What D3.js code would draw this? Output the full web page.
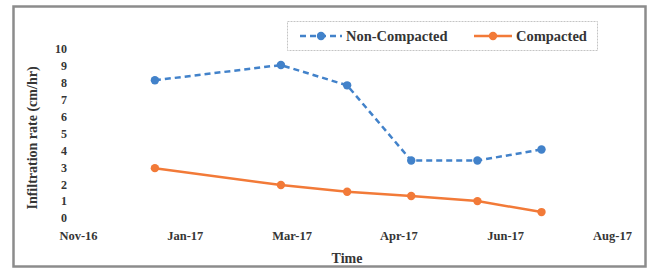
<!DOCTYPE html>
<html>
<head>
<meta charset="utf-8">
<script src="https://cdn.jsdelivr.net/npm/d3@7"></script>
<style>
  body { margin: 0; background: #fff; }
  svg text { font-family: "Liberation Serif", "Times New Roman", serif; font-weight: bold; fill: #353535; }
</style>
</head>
<body>
<div id="chart"></div>
<script>
// Sampling dates and measured infiltration rates
const dates = ["2017-01-05", "2017-03-05", "2017-04-05", "2017-05-05", "2017-06-05", "2017-07-05"];
const nonCompacted = [8.15, 9.05, 7.85, 3.4, 3.4, 4.05];
const compacted = [2.95, 1.95, 1.55, 1.3, 1.0, 0.35];
const seriesNames = ["Non-Compacted", "Compacted"];
const yTicks = [0, 1, 2, 3, 4, 5, 6, 7, 8, 9, 10];
// Excel date axis: start Nov 30 2016, major unit 50 days
const xStart = "2016-11-30";
const xTickCount = 6;
const xTickStepDays = 50;

const width = 651;
const height = 272;
const parse = d3.timeParse("%Y-%m-%d");

const t0 = parse(xStart);
const xTicks = d3.range(xTickCount).map((i) => d3.timeDay.offset(t0, i * xTickStepDays));

const x = d3.scaleTime().domain([xTicks[0], xTicks[xTicks.length - 1]]).range([78, 612]);
const y = d3.scaleLinear().domain([0, 10]).range([218, 49]);

const svg = d3.select("#chart").append("svg").attr("width", width).attr("height", height);

// outer frame
svg.append("rect")
  .attr("x", 13.5).attr("y", 6.5)
  .attr("width", 632).attr("height", 260)
  .attr("fill", "#fff")
  .attr("stroke", "#8c8c8c")
  .attr("stroke-width", 2.5);

// y axis labels (no line)
const yAxis = d3.axisLeft(y).tickValues(yTicks).tickSize(0).tickPadding(0);
const gy = svg.append("g").attr("transform", "translate(67,0)").call(yAxis);
gy.select(".domain").remove();
gy.selectAll("text").style("font-size", "12px");

// x axis labels
const xAxis = d3.axisBottom(x).tickValues(xTicks).tickFormat(d3.timeFormat("%b-%y")).tickSize(0).tickPadding(0);
const gx = svg.append("g").attr("transform", "translate(0,231)").call(xAxis);
gx.select(".domain").remove();
gx.selectAll("text").style("font-size", "12.5px");

// axis titles
svg.append("text")
  .attr("transform", "translate(37,138) rotate(-90)")
  .attr("text-anchor", "middle")
  .style("font-size", "14px")
  .text("Infiltration rate (cm/hr)");

svg.append("text")
  .attr("x", 347).attr("y", 263)
  .attr("text-anchor", "middle")
  .style("font-size", "14px")
  .text("Time");

const colors = ["#4282ca", "#f27a38"];
const dashes = ["6,4", null];
const allSeries = [nonCompacted, compacted];

const line = d3.line()
  .x((d) => x(d.date))
  .y((d) => y(d.value));

allSeries.forEach((vals, i) => {
  const pts = vals.map((v, j) => ({ date: parse(dates[j]), value: v }));
  svg.append("path")
    .datum(pts)
    .attr("d", line)
    .attr("fill", "none")
    .attr("stroke", colors[i])
    .attr("stroke-width", 2.5)
    .attr("stroke-dasharray", dashes[i]);
  svg.selectAll(".pt" + i)
    .data(pts)
    .enter()
    .append("circle")
    .attr("class", "pt" + i)
    .attr("cx", (d) => x(d.date))
    .attr("cy", (d) => y(d.value))
    .attr("r", 4.2)
    .attr("fill", colors[i]);
});

// legend
const legend = svg.append("g");
legend.append("rect")
  .attr("x", 287.5).attr("y", 21.5)
  .attr("width", 310).attr("height", 29)
  .attr("fill", "#fff")
  .attr("stroke", "#c4c4c4")
  .attr("stroke-dasharray", "2,1");

const legendItems = [
  { x0: 300, x1: 342, tx: 346 },
  { x0: 474, x1: 512, tx: 516 }
];
legendItems.forEach((it, i) => {
  legend.append("line")
    .attr("x1", it.x0).attr("x2", it.x1)
    .attr("y1", 36).attr("y2", 36)
    .attr("stroke", colors[i])
    .attr("stroke-width", 2.5)
    .attr("stroke-dasharray", dashes[i]);
  legend.append("circle")
    .attr("cx", (it.x0 + it.x1) / 2).attr("cy", 36)
    .attr("r", 4.2)
    .attr("fill", colors[i]);
  legend.append("text")
    .attr("x", it.tx).attr("y", 40.5)
    .style("font-size", "14.5px")
    .text(seriesNames[i]);
});
</script>
</body>
</html>
